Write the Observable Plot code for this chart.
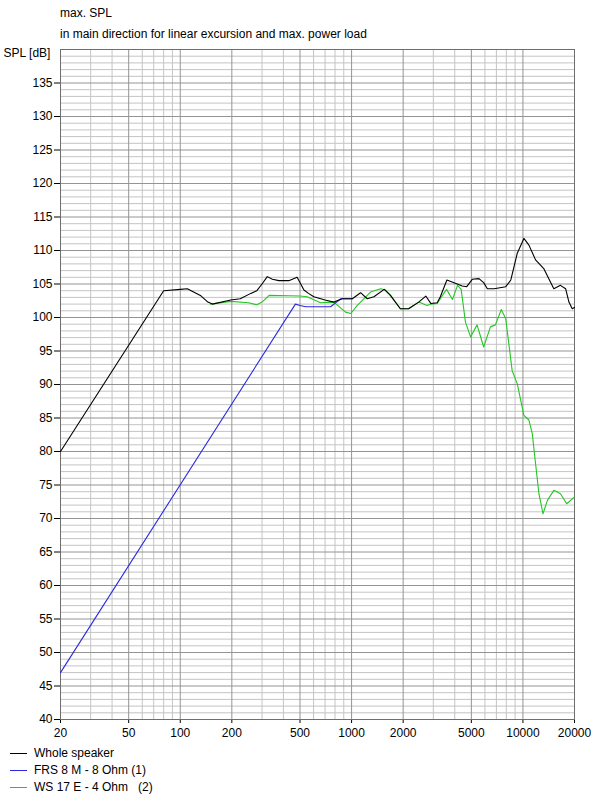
<!DOCTYPE html>
<html>
<head>
<meta charset="utf-8">
<script src="https://cdn.jsdelivr.net/npm/d3@7"></script>
<script src="https://cdn.jsdelivr.net/npm/@observablehq/plot@0.6"></script>
<style>
  body { margin: 0; background: #fff; font-family: "Liberation Sans", Arial, sans-serif; font-size: 12px; color: #000; }
  #title { padding: 3px 0 0 60px; line-height: 21px; height: 42px; }
  #legend { line-height: 17px; }
  .row { display: flex; align-items: center; height: 17px; }
  .swatch { width: 17px; height: 0; border-top: 1px solid; margin: 0 7px 0 10px; }
</style>
</head>
<body>
<div id="title">
  <div>max. SPL</div>
  <div>in main direction for linear excursion and max. power load</div>
</div>
<div id="chart"></div>
<div id="legend"></div>
<script>
// series (frequency in Hz, level in dB)
const wholeFreq = [20, 80, 100, 110, 131, 145, 154, 197, 224, 258, 280, 300, 322, 345, 376, 430, 481, 527, 560, 602, 700, 788, 882, 1010, 1128, 1234, 1350, 1550, 1686, 1926, 2150, 2466, 2710, 2900, 3160, 3296, 3600, 4030, 4420, 4700, 5060, 5540, 5900, 6200, 6790, 7940, 8500, 9270, 10130, 10840, 11850, 13230, 14160, 15150, 16560, 17750, 18560, 19400, 20000];
const wholeSpl = [80, 104.0, 104.2, 104.3, 103.3, 102.3, 102.0, 102.6, 102.8, 103.6, 104.0, 105.0, 106.1, 105.7, 105.5, 105.5, 106.0, 104.1, 103.6, 103.1, 102.6, 102.3, 102.8, 102.8, 103.7, 102.8, 103.1, 104.2, 103.3, 101.3, 101.3, 102.3, 103.2, 102.1, 102.2, 103.1, 105.6, 105.1, 104.7, 104.6, 105.7, 105.8, 105.2, 104.3, 104.3, 104.6, 105.6, 109.6, 111.8, 110.8, 108.6, 107.3, 105.8, 104.3, 104.8, 104.3, 102.3, 101.3, 101.5];

const frsFreq = [20, 470, 500, 539, 755, 807, 866, 944, 1010];
const frsSpl = [47, 102.0, 101.8, 101.6, 101.6, 102.2, 102.8, 102.8, 102.8];

const wsFreq = [150, 197, 250, 280, 300, 330, 500, 550, 658, 788, 922, 990, 1080, 1290, 1476, 1580, 1686, 1926, 2150, 2466, 2760, 2900, 3160, 3580, 3880, 4150, 4360, 4620, 4950, 5400, 5900, 6460, 6910, 7480, 7940, 8650, 9270, 10130, 10840, 11330, 11850, 12400, 13100, 13890, 15150, 16560, 18000, 20000];
const wsSpl = [102.0, 102.4, 102.2, 101.9, 102.3, 103.3, 103.2, 103.1, 102.2, 102.3, 100.8, 100.6, 101.8, 103.8, 104.3, 104.1, 103.3, 101.3, 101.3, 102.3, 101.8, 102.0, 102.1, 104.2, 102.7, 104.8, 104.2, 99.3, 97.1, 98.9, 95.6, 98.6, 98.9, 101.2, 99.8, 92.1, 90.1, 85.4, 84.7, 82.7, 78.2, 73.7, 70.7, 72.7, 74.2, 73.7, 72.2, 73.2];

const seriesNames = ["Whole speaker", "FRS 8 M - 8 Ohm (1)", "WS 17 E - 4 Ohm   (2)"];
const seriesColors = ["#000000", "#2a2ae0", "#22c822"];

const xTicks = [20, 50, 100, 200, 500, 1000, 2000, 5000, 10000, 20000];
const yTicks = d3.range(40, 140, 5);

const renderChart = () => {
    const toRows = (freq, spl, name) => freq.map((f, i) => ({f, spl: spl[i], name}));
    const whole = toRows(wholeFreq, wholeSpl, seriesNames[0]);
    const frs = toRows(frsFreq, frsSpl, seriesNames[1]);
    const ws = toRows(wsFreq, wsSpl, seriesNames[2]);

    // log grid: every 1,2..9 x decade is light, the labelled ones are darker
    const allFreqLines = [];
    [10, 100, 1000, 10000].forEach(dec => {
        for (let k = 1; k <= 9; k++) {
            const f = k * dec;
            if (f >= 20 && f <= 20000) allFreqLines.push(f);
        }
    });
    const minorFreq = allFreqLines.filter(f => !xTicks.includes(f));
    const dbLines = d3.range(41, 140, 1).filter(v => v % 5 !== 0);
    const dbMajor = d3.range(45, 140, 5);

    const chart = Plot.plot({
        width: 602,
        height: 700,
        marginTop: 4,
        marginLeft: 60,
        marginRight: 28,
        marginBottom: 26,
        style: { fontFamily: '"Liberation Sans", Arial, sans-serif', fontSize: "12px", color: "#000", background: "#fff" },
        // log scales filter labels of 5x10^k, so the labels are drawn as a text mark below
        x: { type: "log", domain: [20, 20000], ticks: xTicks, tickFormat: () => "", tickSize: 4, label: null },
        y: { domain: [40, 140], ticks: yTicks, tickSize: 6, tickPadding: 2, label: null },
        marks: [
            Plot.ruleY(dbLines, { stroke: "#c4c4c4", strokeWidth: 1 }),
            Plot.ruleX(minorFreq, { stroke: "#c4c4c4", strokeWidth: 1 }),
            Plot.ruleY(dbMajor, { stroke: "#949494", strokeWidth: 1 }),
            Plot.ruleX(xTicks, { stroke: "#949494", strokeWidth: 1 }),
            Plot.frame({ stroke: "#6e6e6e" }),
            Plot.line(ws, { x: "f", y: "spl", stroke: seriesColors[2], strokeWidth: 1.1 }),
            Plot.line(frs, { x: "f", y: "spl", stroke: seriesColors[1], strokeWidth: 1.1 }),
            Plot.line(whole, { x: "f", y: "spl", stroke: seriesColors[0], strokeWidth: 1.1 }),
            Plot.text(xTicks, { x: d => d, text: d => String(d), frameAnchor: "bottom", dy: 14, lineAnchor: "middle", fill: "#000" }),
            Plot.text(["SPL [dB]"], { frameAnchor: "top-left", dx: -57, dy: 4, textAnchor: "start", lineAnchor: "middle", fill: "#000" })
        ]
    });
    document.getElementById("chart").append(chart);

    // simple legend below the plot
    const legend = document.getElementById("legend");
    seriesNames.forEach((name, i) => {
        const row = document.createElement("div");
        row.className = "row";
        const sw = document.createElement("span");
        sw.className = "swatch";
        sw.style.borderTopColor = seriesColors[i];
        const label = document.createElement("span");
        label.style.whiteSpace = "pre";
        label.textContent = name;
        row.append(sw, label);
        legend.append(row);
    });
};

if (document.readyState === "loading") {
    document.addEventListener("DOMContentLoaded", renderChart);
} else {
    renderChart();
}
</script>
</body>
</html>
